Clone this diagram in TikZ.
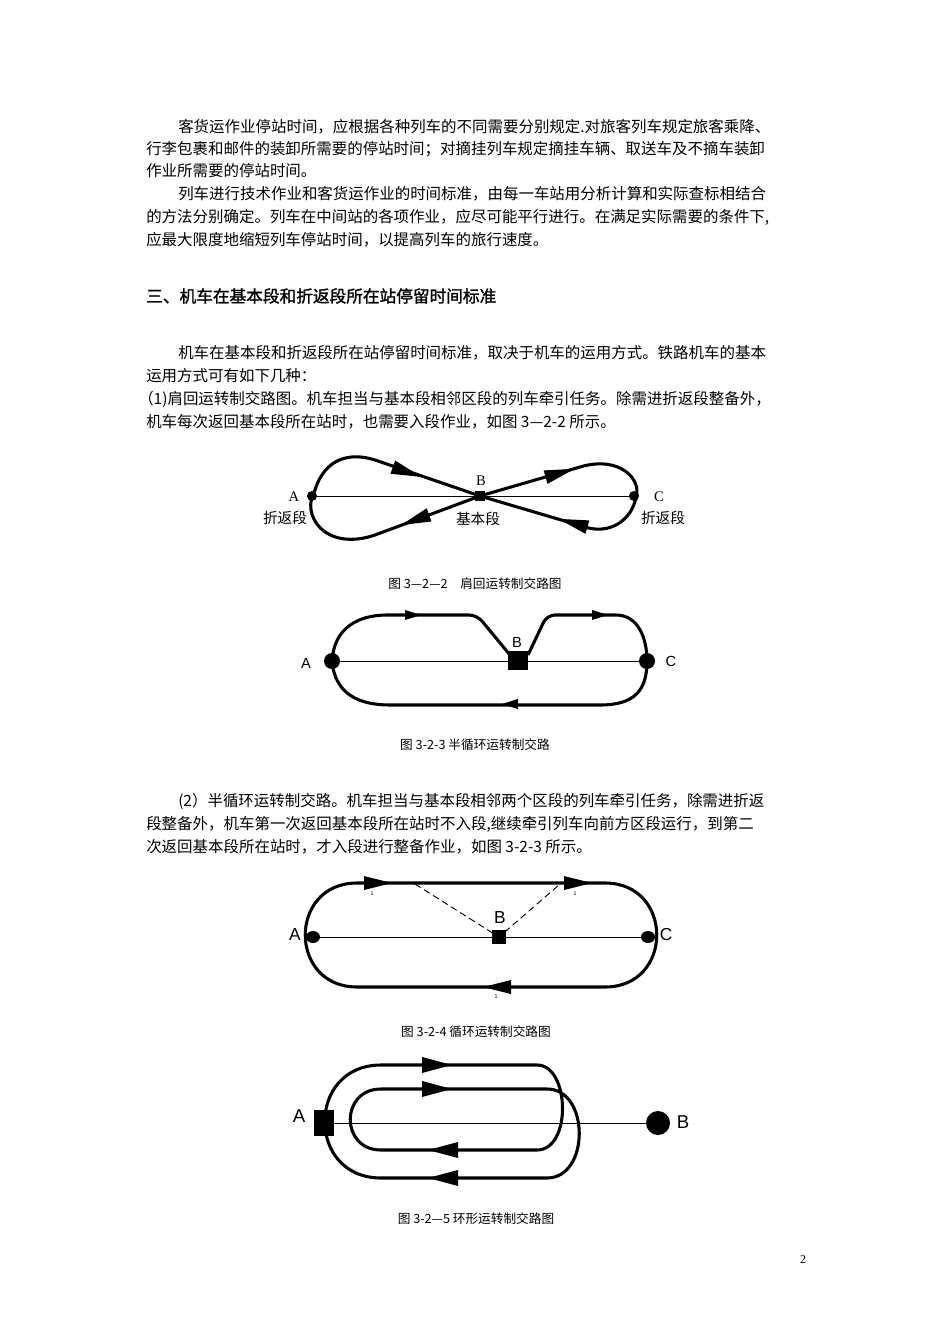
\documentclass[tikz,border=0pt]{standalone}
\usepackage{fontspec}
\setmainfont{Noto Sans CJK SC}
\newfontfamily\cjkb[FakeBold=1.5]{Noto Sans CJK SC}
\newfontfamily\lser{Liberation Serif}
\newfontfamily\lsans{Liberation Sans}
\begin{document}
\begin{tikzpicture}[x=0.75pt,y=-0.75pt,
  body/.style={anchor=west,inner sep=0pt,font=\fontsize{11.6}{13}\selectfont},
  figcap/.style={inner sep=0pt,font=\fontsize{9.5}{11}\selectfont},
  track/.style={line width=2.3pt,line join=round},
  thin/.style={line width=0.7pt},
  pics/arw/.style={code={\fill (-1,-0.5)--(1,0)--(-1,0.5)--cycle;}}]
\useasboundingbox[fill=white] (0,0) rectangle (950,1344);
% text
\node[body] (t1) at (178,127) {客货运作业停站时间，应根据各种列车的不同需要分别规定.对旅客列车规定旅客乘降、};
\node[body] (t2) at (146,149) {行李包裹和邮件的装卸所需要的停站时间；对摘挂列车规定摘挂车辆、取送车及不摘车装卸};
\node[body] (t3) at (146,171) {作业所需要的停站时间。};
\node[body] (t4) at (178,194) {列车进行技术作业和客货运作业的时间标准，由每一车站用分析计算和实际查标相结合};
\node[body] (t5) at (146,217) {的方法分别确定。列车在中间站的各项作业，应尽可能平行进行。在满足实际需要的条件下,};
\node[body] (t6) at (146,240) {应最大限度地缩短列车停站时间，以提高列车的旅行速度。};
\node[body,font=\fontsize{12.5}{14}\cjkb] (h) at (146,296) {三、机车在基本段和折返段所在站停留时间标准};
\node[body] (t7) at (178,353) {机车在基本段和折返段所在站停留时间标准，取决于机车的运用方式。铁路机车的基本};
\node[body] (t8) at (146,376) {运用方式可有如下几种：};
\node[body] (t9) at (138,399) {（1)肩回运转制交路图。机车担当与基本段相邻区段的列车牵引任务。除需进折返段整备外，};
\node[body] (t10) at (146,422) {机车每次返回基本段所在站时，也需要入段作业，如图 3—2-2 所示。};
\node[body] (t11) at (178,801) {(2）半循环运转制交路。机车担当与基本段相邻两个区段的列车牵引任务，除需进折返};
\node[body] (t12) at (146,824) {段整备外，机车第一次返回基本段所在站时不入段,继续牵引列车向前方区段运行，到第二};
\node[body] (t13) at (146,847) {次返回基本段所在站时，才入段进行整备作业，如图 3-2-3 所示。};
\node[figcap] (c1) at (475,584) {图 3—2—2\quad 肩回运转制交路图};
\node[figcap] (c2) at (475,745) {图 3-2-3 半循环运转制交路};
\node[figcap] (c3) at (476,1032) {图 3-2-4 循环运转制交路图};
\node[figcap] (c4) at (476,1219) {图 3-2—5 环形运转制交路图};
\node[inner sep=0pt,font=\lser\fontsize{9}{11}\selectfont] (pg) at (803,1260) {2};
% ---- Fig 3-2-2
\draw[thin] (312,496) -- (634,496);
\draw[track] (480,496) -- (375,535) .. controls (325,552) and (300,515) .. (315,490) .. controls (325,458) and (350,452) .. (375,460) -- cycle;
\draw[track] (480,496) -- (580,467) .. controls (620,455) and (642,480) .. (636,497) .. controls (632,520) and (610,535) .. (585,527) -- cycle;
\fill (312,496) circle (5);
\fill (634,496) circle (5);
\fill (475,491) rectangle (485,501);
\pic[rotate=-19,xscale=15,yscale=14] at (407,472) {arw};
\pic[rotate=-160,xscale=15,yscale=14] at (415,520) {arw};
\pic[rotate=16,xscale=15,yscale=14] at (560,473) {arw};
\pic[rotate=-196,xscale=15,yscale=14] at (573,523) {arw};
\node[inner sep=0pt,font=\lser\fontsize{11}{12}\selectfont] (la) at (294,497) {A};
\node[inner sep=0pt,font=\lser\fontsize{11}{12}\selectfont] (lb) at (481,481) {B};
\node[inner sep=0pt,font=\lser\fontsize{11}{12}\selectfont] (lc) at (659,497) {C};
\node[inner sep=0pt,font=\fontsize{11}{12}\selectfont] (za) at (285,518) {折返段};
\node[inner sep=0pt,font=\fontsize{11}{12}\selectfont] (zb) at (478,519) {基本段};
\node[inner sep=0pt,font=\fontsize{11}{12}\selectfont] (zc) at (663,518) {折返段};
% ---- Fig 3-2-3
\draw[thin] (332,661) -- (647,661);
\draw[track,rounded corners=6] (332,661) .. controls (334,628) and (358,615) .. (395,615) -- (477,615) -- (510,655);
\draw[track,rounded corners=6] (528,655) -- (547,615) -- (608,615) .. controls (638,615) and (647,638) .. (647,661);
\draw[track] (332,661) .. controls (335,695) and (360,705) .. (390,705) -- (600,705) .. controls (635,705) and (647,690) .. (647,661);
\fill (332,661) circle (8);
\fill (647,661) circle (8);
\fill (508,651) rectangle (528,670);
\pic[xscale=8,yscale=10] at (413,615) {arw};
\pic[xscale=8,yscale=10] at (600,615) {arw};
\pic[rotate=180,xscale=8,yscale=10] at (510,704) {arw};
\node[inner sep=0pt,font=\lsans\fontsize{11}{12}\selectfont] (ma) at (306,663) {A};
\node[inner sep=0pt,font=\lsans\fontsize{11}{12}\selectfont] (mb) at (517,642) {B};
\node[inner sep=0pt,font=\lsans\fontsize{11}{12}\selectfont] (mc) at (671,661) {C};
% ---- Fig 3-2-4
\draw[thin] (313,937) -- (648,937);
\draw[thin,dash pattern=on 5pt off 3pt] (415,884) -- (499,937) -- (560,884);
\draw[track] (357,883) -- (605,883) .. controls (674,883) and (674,987) .. (605,987) -- (357,987) .. controls (288,987) and (288,883) .. (357,883) -- cycle;
\fill (313,937) ellipse (7 and 6);
\fill (648,937) ellipse (7 and 6);
\fill (492,930) rectangle (506,944);
\pic[xscale=14,yscale=14] at (378,883) {arw};
\pic[xscale=14,yscale=14] at (578,883) {arw};
\pic[rotate=180,xscale=14,yscale=14] at (497,987) {arw};
\node[inner sep=0pt,font=\lsans\fontsize{4}{5}\selectfont] (n1) at (372,894) {1};
\node[inner sep=0pt,font=\lsans\fontsize{4}{5}\selectfont] (n2) at (575,894) {1};
\node[inner sep=0pt,font=\lsans\fontsize{4}{5}\selectfont] (n3) at (496,997) {1};
\node[inner sep=0pt,font=\lsans\fontsize{13}{14}\selectfont] (na) at (295,935) {A};
\node[inner sep=0pt,font=\lsans\fontsize{13}{14}\selectfont] (nb) at (500,918) {B};
\node[inner sep=0pt,font=\lsans\fontsize{13}{14}\selectfont] (nc) at (666,935) {C};
% ---- Fig 3-2-5
\draw[thin] (324,1123) -- (658,1123);
\draw[track] (381,1065) -- (537,1065) .. controls (570,1065) and (572,1150) .. (537,1150) -- (381,1150) .. controls (340,1150) and (340,1089) .. (381,1089) -- (547,1089) .. controls (590,1089) and (590,1178) .. (547,1178) -- (381,1178) .. controls (306,1178) and (306,1065) .. (381,1065) -- cycle;
\fill (314,1110) rectangle (334,1136);
\fill (658,1123) circle (12);
\pic[xscale=15,yscale=16] at (437,1065) {arw};
\pic[xscale=15,yscale=16] at (437,1089) {arw};
\pic[rotate=180,xscale=15,yscale=16] at (443,1150) {arw};
\pic[rotate=180,xscale=15,yscale=16] at (443,1178) {arw};
\node[inner sep=0pt,font=\lsans\fontsize{14}{15}\selectfont] (pa) at (299,1116) {A};
\node[inner sep=0pt,font=\lsans\fontsize{14}{15}\selectfont] (pb) at (683,1122) {B};
\end{tikzpicture}
\end{document}
